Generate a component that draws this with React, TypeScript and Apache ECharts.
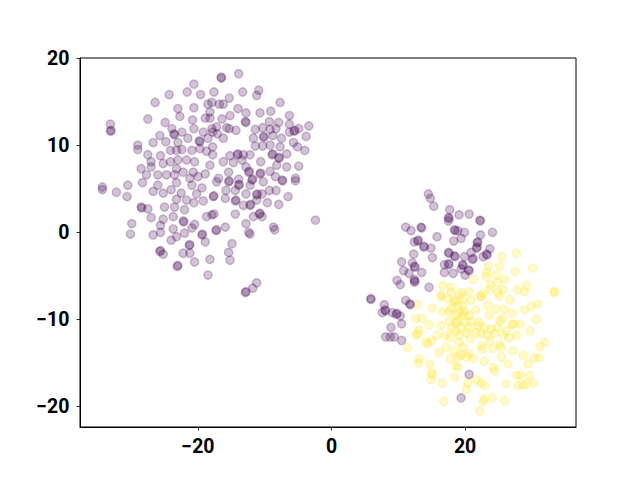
import React, { useEffect, useRef } from "react";
import * as echarts from "echarts";

// Cluster 0 (purple) – left group
const purpleLeft: number[][] = [
  [-20.6,17.0],[-21.6,16.1],[-19.6,15.8],[-24.3,15.8],[-17.6,16.1],[-26.4,14.9],[-23.0,14.2],[-20.6,14.3],[-18.5,14.7],[-22.7,13.3],
  [-18.9,13.1],[-18.2,13.1],[-20.8,12.9],[-24.9,12.6],[-27.5,13.0],[-33.1,12.4],[-33.0,11.7],[-33.1,11.6],[-20.6,11.9],[-23.9,11.9],
  [-23.6,11.3],[-23.5,11.2],[-22.4,11.5],[-19.2,11.5],[-17.9,11.9],[-25.7,11.1],[-24.8,10.4],[-26.7,10.3],[-29.0,10.0],[-29.0,9.5],
  [-27.5,8.9],[-25.6,8.8],[-23.0,10.3],[-21.5,10.8],[-19.8,10.5],[-19.7,10.4],[-18.5,10.8],[-24.1,9.4],[-23.2,9.4],[-22.4,9.5],
  [-20.9,9.4],[-19.7,9.6],[-18.7,9.3],[-27.0,8.1],[-28.5,7.3],[-27.0,7.5],[-25.2,7.9],[-24.1,8.1],[-23.0,8.3],[-21.7,8.3],
  [-20.5,8.1],[-23.2,7.3],[-22.2,6.9],[-20.7,6.9],[-18.9,6.7],[-27.7,6.6],[-26.0,6.6],[-24.7,6.6],[-23.5,6.6],[-21.2,6.2],
  [-20.0,6.4],[-34.3,5.2],[-34.3,4.9],[-30.5,5.4],
  [-32.2,4.6],[-30.6,4.1],[-28.3,5.7],[-26.7,4.7],[-26.0,5.4],[-25.2,4.5],[-24.0,4.9],[-23.2,5.7],[-22.5,4.5],[-21.7,3.7],
  [-20.9,5.4],[-20.2,4.4],[-19.4,5.1],[-19.2,3.6],[-20.6,3.4],[-28.5,2.9],[-28.4,2.8],[-27.5,2.7],[-25.0,2.9],[-23.5,2.9],
  [-23.2,3.8],[-22.0,2.6],[-27.0,1.7],[-25.2,1.5],[-23.7,1.8],[-22.2,1.3],[-22.1,1.2],[-20.5,0.9],[-18.7,1.8],[-17.9,2.0],
  [-29.9,1.0],[-30.1,-0.2],[-26.7,-0.3],[-25.6,0.0],[-25.6,0.8],[-23.7,0.4],[-22.0,-0.1],[-20.9,0.5],[-19.4,-0.3],[-19.3,-0.2],
  [-18.9,-1.1],[-24.0,-0.9],[-23.2,-0.5],[-21.3,-1.5],[-21.2,-1.4],[-21.2,-2.4],[-22.2,-2.4],[-25.7,-2.2],[-25.6,-2.1],[-25.2,-2.5],
  [-20.5,-3.4],[-23.1,-3.9],[-23.0,-3.8],[-18.2,-3.1],[-18.5,-4.9],
  [-16.5,17.7],[-16.5,17.8],[-13.9,18.2],[-15.3,15.4],[-13.3,16.1],[-10.9,16.3],[-11.2,15.7],[-7.7,14.9],[-17.9,14.9],[-16.8,14.7],
  [-16.2,14.7],[-14.0,14.2],[-10.7,13.7],[-9.1,13.9],[-12.8,13.7],[-18.2,13.8],[-6.3,13.4],[-15.2,13.4],[-16.4,13.0],[-12.9,12.7],
  [-12.8,12.6],[-9.3,12.7],[-7.9,12.6],[-3.4,12.2],[-6.3,12.4],[-17.2,12.1],[-15.7,12.0],[-11.4,11.8],[-10.3,12.0],[-9.2,11.8],
  [-8.3,11.9],[-4.9,11.9],[-17.8,11.5],[-17.1,11.3],[-14.3,11.7],[-15.3,11.9],[-6.3,11.5],[-5.6,11.6],[-5.5,11.7],[-16.2,10.8],
  [-11.7,10.8],[-10.2,11.0],[-10.1,10.9],[-8.8,11.1],[-7.5,10.8],[-3.8,11.0],[-11.4,9.9],[-10.3,9.9],[-9.2,10.0],[-7.7,9.8],
  [-5.7,10.3],[-5.1,9.8],[-4.0,9.4],[-17.8,8.9],[-15.2,8.8],[-14.1,8.9],[-14.0,9.0],[-13.2,8.9],[-12.2,8.9],[-8.9,8.9],
  [-8.8,9.0],[-7.9,8.5],[-7.8,8.6],[-6.7,9.0],[-16.2,8.1],[-14.7,8.0],[-13.4,8.3],[-10.6,8.1],[-8.2,7.7],[-6.7,7.5],
  [-4.9,7.6],[-12.8,7.5],[-15.4,6.9],[-12.4,6.9],[-12.3,7.0],[-10.7,6.7],[-10.6,6.8],[-9.2,7.0],[-8.4,6.4],[-16.9,6.2],
  [-13.9,6.1],[-11.9,6.0],[-11.8,6.1],[-7.4,6.0],[-5.4,6.2],[-17.8,9.8],[-18.2,7.7],
  [-17.2,5.8],[-15.4,5.8],[-15.3,5.9],[-13.9,5.4],[-13.8,5.5],[-12.2,5.4],[-10.2,5.8],[-7.3,5.9],[-5.4,5.9],[-17.7,4.1],
  [-17.6,4.2],[-15.8,4.8],[-14.4,4.8],[-12.8,4.4],[-11.2,4.3],[-11.1,4.4],[-10.4,4.4],[-9.3,4.8],[-8.3,4.8],[-6.5,4.1],
  [-15.9,3.9],[-14.4,3.6],[-14.3,3.7],[-13.2,3.1],[-12.2,3.1],[-12.1,3.2],[-11.2,3.7],[-9.6,3.4],[-7.9,3.2],[-17.6,2.1],
  [-14.4,2.1],[-11.7,1.8],[-10.8,2.1],[-10.7,2.2],[-10.4,1.8],[-12.8,1.0],[-15.9,0.6],[-17.3,0.2],[-17.2,0.3],[-8.7,0.6],
  [-8.5,0.3],[-12.4,0.0],[-12.2,-0.2],[-2.4,1.4],[-14.9,-1.3],[-15.4,-2.3],[-15.2,-3.2],[-11.2,-5.8],[-11.8,-6.4],[-12.9,-6.9],
  [-12.8,-6.8]
];

// Cluster 0 (purple) – points inside the right group
const purpleRight: number[][] = [
  [14.5,4.4],[14.8,3.9],[15.3,3.0],[17.7,2.6],[17.6,1.6],[17.5,1.7],[17.5,1.3],[19.1,2.0],[11.1,0.6],[11.9,0.2],
  [13.5,0.5],[13.4,0.6],[15.8,-0.5],[18.5,0.2],[18.4,0.3],[18.9,0.2],[12.9,-1.0],[13.0,-0.9],[12.4,-1.1],[13.9,-1.7],
  [13.8,-1.6],[14.9,-1.8],[18.3,-1.0],[19.4,-0.7],[12.3,-2.5],[15.1,-2.9],[17.6,-2.4],[17.5,-2.3],[18.5,-2.8],[18.4,-2.7],
  [10.5,-3.4],[12.1,-3.5],[12.5,-4.0],[12.4,-3.9],[10.8,-4.4],[11.6,-4.7],[13.5,-4.6],[16.9,-3.7],[17.6,-3.7],[17.5,-3.6],
  [18.2,-4.7],[16.9,-4.6],[9.8,-5.5],[10.3,-6.0],[12.4,-5.4],[12.4,-5.7],[12.5,-5.6],[14.6,-6.3],[19.4,-4.2],[5.9,-7.6],
  [5.9,-7.7],
  [20.6,2.1],[22.3,1.3],[22.2,1.4],[19.9,0.0],[24.1,0.0],[22.3,-0.3],[21.9,-1.1],[21.8,-1.2],[21.8,-1.7],[21.7,-1.8],
  [23.7,-1.9],[23.3,-2.6],[23.2,-2.5],[22.7,-2.8],[20.9,-2.3],[19.9,-2.8],[21.2,-3.0],[21.1,-3.1],[19.7,-3.8],[19.6,-3.7],
  [20.6,-4.4],[20.5,-4.3],[20.0,-4.9],
  [7.9,-8.3],[8.0,-8.9],[8.1,-9.0],[7.6,-9.2],[9.1,-9.2],[9.8,-9.3],[9.7,-9.4],[10.3,-9.6],[11.1,-7.8],[11.8,-8.3],
  [11.7,-8.2],[8.9,-10.9],[10.5,-10.5],[8.1,-12.0],[8.8,-12.0],[9.4,-12.0],[10.5,-12.4],[19.4,-19.0],[20.6,-16.3]
];

// Cluster 1 (yellow)
const yellowPoints: number[][] = [
  [25.5,-2.8],[27.7,-2.4],[23.5,-3.9],[25.2,-3.9],[27.5,-4.5],[30.1,-4.1],[23.2,-4.6],[23.2,-5.1],[24.7,-4.9],[25.9,-5.4],
  [21.2,-5.4],[24.9,-5.8],[23.8,-6.0],[29.2,-6.1],[33.3,-6.9],[33.4,-6.8],[27.8,-6.6],[28.9,-6.8],[25.7,-6.6],[24.9,-6.9],
  [23.7,-6.6],[22.7,-7.0],[20.6,-6.8],[19.5,-6.9],[22.3,-7.3],
  [16.6,-6.1],[17.8,-6.3],[16.4,-7.2],[17.9,-6.9],[19.1,-7.2],
  [12.9,-8.3],[15.1,-8.7],[16.6,-9.1],[16.4,-7.4],[17.4,-7.6],[18.6,-7.8],[17.9,-8.7],[18.9,-8.4],[17.6,-9.1],[12.6,-9.9],
  [13.6,-9.9],[14.6,-10.6],[16.4,-10.7],[17.6,-10.2],[18.6,-10.3],[12.9,-11.6],[12.6,-11.8],[13.1,-11.2],[14.1,-12.6],[14.4,-12.8],
  [15.0,-12.4],[11.4,-13.2],[15.8,-11.8],[17.1,-11.8],[17.8,-12.1],[19.1,-11.8],[17.1,-13.2],[18.4,-13.6],[16.1,-13.8],[17.8,-14.5],
  [18.9,-14.3],[13.1,-14.5],[13.0,-15.0],[14.7,-15.1],[18.6,-15.3],[14.9,-16.1],[15.1,-16.3],[14.9,-16.9],[16.6,-17.3],[18.4,-16.6],
  [16.8,-19.4],
  [19.7,-7.6],[20.9,-7.8],[19.7,-8.4],[22.4,-7.4],[23.4,-8.4],[21.6,-8.9],[19.9,-9.1],[25.1,-7.3],[26.7,-7.7],[24.6,-8.8],
  [25.9,-8.8],[27.1,-9.3],[25.6,-9.9],[25.2,-10.2],[28.9,-8.9],[29.9,-8.5],[30.9,-8.2],[30.7,-10.0],[28.3,-10.5],[27.1,-10.6],
  [27.2,-10.5],[29.7,-11.3],[18.9,-10.2],[20.0,-10.3],[20.9,-10.2],[19.4,-10.9],[20.6,-11.0],[21.9,-10.7],[22.9,-10.9],[23.9,-11.1],
  [21.7,-11.5],[23.3,-11.8],[24.4,-11.6],[25.7,-11.8],[26.6,-12.1],[27.7,-11.8],[20.8,-12.2],[19.1,-12.6],[23.7,-12.5],[25.2,-12.9],
  [25.4,-13.2],[31.9,-12.6],[31.2,-13.1],[22.6,-13.4],[24.1,-13.3],[19.7,-13.2],[19.4,-14.1],[20.2,-14.3],[21.2,-14.5],[27.2,-13.6],
  [28.7,-14.1],[25.4,-14.3],[26.4,-15.1],[30.4,-14.4],[31.1,-14.4],[22.9,-14.8],[29.4,-15.1],[18.9,-15.5],[24.2,-15.5],[24.4,-15.9],
  [27.7,-16.4],[28.3,-16.4],[29.7,-16.4],[21.7,-16.9],[22.3,-17.3],[22.9,-17.6],[20.4,-17.3],[20.2,-18.0],[26.1,-17.4],[27.9,-17.6],
  [28.6,-17.5],[29.2,-17.4],[30.3,-17.3],[22.9,-19.1],[22.7,-19.4],[24.1,-19.0],[25.9,-19.3],[22.2,-20.5],
  [19.1,-9.2],[18.6,-11.3],[20.2,-11.5],[22.4,-11.6],[24.9,-10.9],[26.2,-11.3],[22.4,-13.0],[20.6,-13.9],[19.7,-9.5],[20.6,-9.5],
  [23.6,-9.5],[22.1,-10.3],[18.3,-8.0],[18.7,-9.5],[18.0,-11.0]
];

const xTicks = [-20, 0, 20];
const yTicks = [-20, -10, 0, 10, 20];

const fmt = (v: number) => (v < 0 ? "\u2212" + Math.abs(v) : String(v));

export default function App() {
  const ref = useRef<HTMLDivElement>(null);
  useEffect(() => {
    if (!ref.current) return;
    const chart = echarts.init(ref.current, null, { renderer: "svg" });
    const labelStyle = {
      color: "#000",
      fontFamily: "Roboto",
      fontWeight: "bold" as const,
      fontSize: 19.5,
    };
    chart.setOption({
      animation: false,
      backgroundColor: "#fff",
      grid: {
        left: 80,
        top: 58,
        width: 496,
        height: 369,
        show: true,
        borderColor: "#000",
        borderWidth: 1,
        backgroundColor: "transparent",
      },
      xAxis: {
        type: "value",
        min: -37.65,
        max: 36.6,
        splitLine: { show: false },
        axisLine: { show: true, onZero: false, lineStyle: { color: "#000", width: 1 } },
        axisTick: { show: true, length: 3.5, customValues: xTicks, lineStyle: { color: "#000", width: 0.8 } },
        axisLabel: { ...labelStyle, margin: 9, customValues: xTicks, formatter: fmt },
      },
      yAxis: {
        type: "value",
        min: -22.33,
        max: 20,
        splitLine: { show: false },
        axisLine: { show: true, onZero: false, lineStyle: { color: "#000", width: 1 } },
        axisTick: { show: true, length: 3.5, customValues: yTicks, lineStyle: { color: "#000", width: 0.8 } },
        axisLabel: { ...labelStyle, margin: 10.5, customValues: yTicks, formatter: fmt },
      },
      series: [
        {
          type: "scatter",
          data: yellowPoints,
          symbolSize: 8.3,
          itemStyle: {
            color: "rgba(253,231,37,0.3)",
            borderColor: "rgba(253,231,37,0.3)",
            borderWidth: 1.4,
          },
          emphasis: { disabled: true },
        },
        {
          type: "scatter",
          data: [...purpleLeft, ...purpleRight],
          symbolSize: 8.3,
          itemStyle: {
            color: "rgba(68,1,84,0.3)",
            borderColor: "rgba(68,1,84,0.3)",
            borderWidth: 1.4,
          },
          emphasis: { disabled: true },
        },
      ],
    });
    return () => chart.dispose();
  }, []);
  return (
    <div
      ref={ref}
      style={{ position: "absolute", left: 0, top: 0, width: 640, height: 480 }}
    />
  );
}
